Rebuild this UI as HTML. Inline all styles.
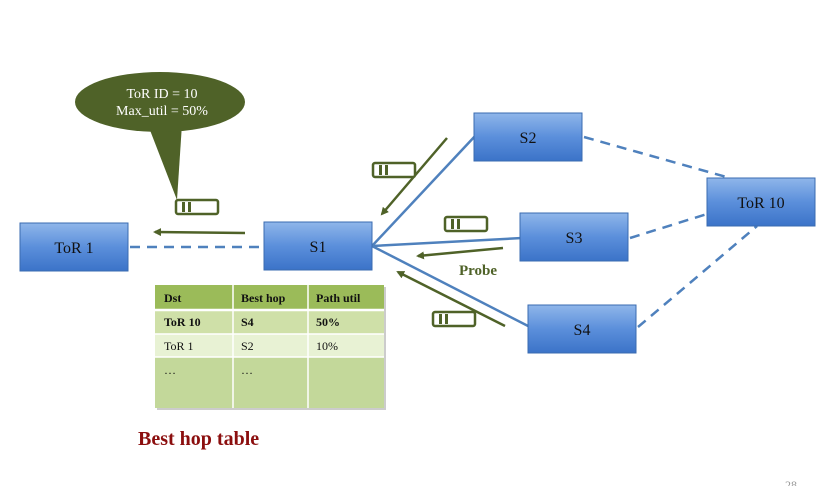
<!DOCTYPE html><html><head><style>body{margin:0;background:#fff}</style></head><body>
<svg width="839" height="486" xmlns="http://www.w3.org/2000/svg" font-family="Liberation Serif, serif">
<defs>
<linearGradient id="b" x1="0" y1="0" x2="0" y2="1"><stop offset="0" stop-color="#8fb6ea"/><stop offset="0.5" stop-color="#5b8fdb"/><stop offset="1" stop-color="#3b73c8"/></linearGradient>
<marker id="a" markerWidth="8" markerHeight="8" refX="6" refY="4" orient="auto" markerUnits="userSpaceOnUse"><path d="M0,0 L8,4 L0,8 z" fill="#4f6228"/></marker>
<g id="p"><rect x="0" y="0" width="42" height="14" rx="2" fill="#fff" stroke="#4f6228" stroke-width="2.5"/><rect x="6" y="2" width="3" height="10" fill="#4f6228"/><rect x="12" y="2" width="3" height="10" fill="#4f6228"/></g>
</defs>
<g stroke="#4f81bd" stroke-width="2.5" fill="none">
<line x1="372" y1="246" x2="476" y2="135"/><line x1="372" y1="246" x2="522" y2="238"/><line x1="372" y1="246" x2="530" y2="327"/>
<g stroke-dasharray="10,7"><line x1="130" y1="247" x2="262" y2="247"/><line x1="584" y1="137" x2="730" y2="178"/><line x1="630" y1="238" x2="707" y2="214"/><line x1="638" y1="327" x2="757" y2="226"/></g>
</g>
<g stroke="#4f6228" stroke-width="2.5" marker-end="url(#a)">
<line x1="447" y1="138" x2="382" y2="214"/><line x1="503" y1="248" x2="418" y2="256"/><line x1="505" y1="326" x2="398" y2="272"/><line x1="245" y1="233" x2="155" y2="232"/>
</g>
<g fill="url(#b)" stroke="#3a6bb0" stroke-width="1">
<rect x="20" y="223" width="108" height="48"/><rect x="264" y="222" width="108" height="48"/><rect x="474" y="113" width="108" height="48"/><rect x="520" y="213" width="108" height="48"/><rect x="528" y="305" width="108" height="48"/><rect x="707" y="178" width="108" height="48"/>
</g>
<g font-size="16" text-anchor="middle" fill="#111">
<text x="74" y="253">ToR 1</text><text x="318" y="252">S1</text><text x="528" y="143">S2</text><text x="574" y="243">S3</text><text x="582" y="335">S4</text><text x="761" y="208">ToR 10</text>
</g>
<path d="M148,125 L177,200 L182,124 z" fill="#4f6228"/>
<ellipse cx="160" cy="102" rx="85" ry="30" fill="#4f6228"/>
<text x="162" y="98" font-size="14" fill="#fff" text-anchor="middle">ToR  ID = 10</text>
<text x="162" y="115" font-size="14" fill="#fff" text-anchor="middle">Max_util = 50%</text>
<use href="#p" x="176" y="200"/><use href="#p" x="373" y="163"/><use href="#p" x="445" y="217"/><use href="#p" x="433" y="312"/>
<text x="459" y="275" font-size="15" font-weight="bold" fill="#4f6228">Probe</text>
<rect x="157" y="287" width="229" height="123" fill="#ccc"/>
<rect x="155" y="285" width="229" height="25" fill="#9bbb59"/>
<rect x="155" y="310" width="229" height="24" fill="#cfe0a8"/>
<rect x="155" y="334" width="229" height="23" fill="#e8f2d4"/>
<rect x="155" y="357" width="229" height="51" fill="#c3d89a"/>
<g stroke="#fff" stroke-width="1.5"><line x1="155" y1="310" x2="384" y2="310" stroke-width="2.5"/><line x1="155" y1="334" x2="384" y2="334"/><line x1="155" y1="357" x2="384" y2="357"/><line x1="233" y1="285" x2="233" y2="408"/><line x1="308" y1="285" x2="308" y2="408"/></g>
<g font-size="12" fill="#111">
<text x="164" y="302" font-weight="bold">Dst</text><text x="241" y="302" font-weight="bold">Best hop</text><text x="316" y="302" font-weight="bold">Path util</text>
<text x="164" y="326" font-weight="bold">ToR 10</text><text x="241" y="326" font-weight="bold">S4</text><text x="316" y="326" font-weight="bold">50%</text>
<text x="164" y="350">ToR 1</text><text x="241" y="350">S2</text><text x="316" y="350">10%</text>
<text x="164" y="374">…</text><text x="241" y="374">…</text>
</g>
<text x="138" y="445" font-size="20" font-weight="bold" fill="#8b0e0e">Best hop table</text>
<text x="785" y="489" font-size="12" fill="#999">28</text>
</svg>
</body></html>
